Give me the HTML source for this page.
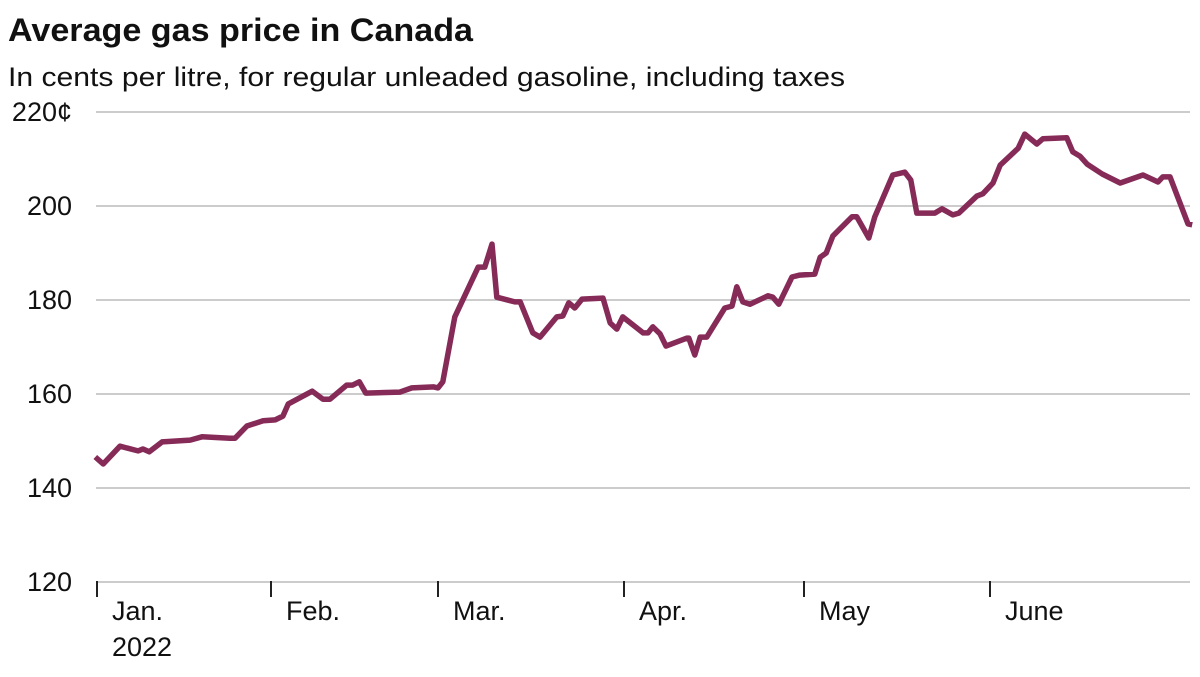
<!DOCTYPE html>
<html><head><meta charset="utf-8"><style>
html,body{margin:0;padding:0;background:#fff;}
body{width:1200px;height:672px;overflow:hidden;font-family:"Liberation Sans",sans-serif;color:#111;}
</style></head><body>
<svg id="chart" width="1200" height="672" xmlns="http://www.w3.org/2000/svg" font-family="Liberation Sans, sans-serif">
<text x="8" y="41" font-size="32" font-weight="bold" fill="#111" textLength="465" lengthAdjust="spacingAndGlyphs">Average gas price in Canada</text>
<text x="8" y="86" font-size="27" fill="#111" textLength="837" lengthAdjust="spacingAndGlyphs">In cents per litre, for regular unleaded gasoline, including taxes</text>
<g id="grid"></g>
<g id="xaxis"></g>
<g id="series"></g>
</svg>
<script>
const yTicks=[120,140,160,180,200,220];
const yTickLabels=["120","140","160","180","200","220¢"];
const monthDays=[0,31,59,90,120,151,181];
const monthLabels=["Jan.","Feb.","Mar.","Apr.","May","June"];
const days=[-0.3,1.1,4.1,7.3,8.2,9.3,11.6,16.6,18.7,23.7,24.6,26.7,29.6,31.7,33.0,33.9,37.9,39.7,40.9,43.7,44.7,45.8,46.9,52.6,54.6,58.3,59.0,59.8,61.8,65.7,66.8,68.0,68.8,71.8,72.7,74.8,76.0,78.8,79.8,80.8,81.8,83.0,86.5,87.7,88.8,89.8,93.2,94.0,94.8,96.0,97.0,100.5,100.8,101.8,102.7,103.8,106.8,108.0,108.8,109.8,111.0,114.0,114.8,115.8,118.0,119.3,121.8,122.7,123.7,124.8,128.0,128.8,130.8,131.8,134.8,136.8,137.8,138.8,141.8,143.0,144.8,145.8,148.8,149.8,151.5,152.7,155.7,156.8,158.8,159.8,163.8,164.8,166.0,167.2,169.7,172.7,176.5,179.0,179.8,181.0,184.0,184.7];
const prices=[146.6,145.1,148.9,147.9,148.3,147.7,149.8,150.2,150.9,150.6,150.6,153.2,154.3,154.5,155.3,157.9,160.6,158.9,158.9,161.9,161.9,162.6,160.2,160.4,161.3,161.5,161.3,162.6,176.4,187.0,187.0,191.9,180.6,179.6,179.6,173.0,172.1,176.4,176.6,179.4,178.3,180.2,180.4,175.1,173.8,176.4,173.0,173.0,174.3,172.8,170.2,171.9,171.9,168.3,172.1,172.1,178.3,178.7,182.8,179.6,179.1,180.9,180.6,179.1,184.9,185.3,185.5,189.1,190.0,193.6,197.7,197.7,193.2,197.7,206.6,207.2,205.5,198.5,198.5,199.4,198.1,198.5,202.1,202.6,204.9,208.7,212.3,215.3,213.2,214.3,214.5,211.5,210.6,208.9,206.8,204.9,206.6,205.1,206.2,206.2,196.2,196.0];
const NS="http://www.w3.org/2000/svg";
const tickPx=[97,271,438,624,804,990,1170];
function xs(d){
  for(let i=0;i<monthDays.length-1;i++){
    if(d<=monthDays[i+1]||i===monthDays.length-2){
      const t=(d-monthDays[i])/(monthDays[i+1]-monthDays[i]);
      return tickPx[i]+t*(tickPx[i+1]-tickPx[i]);
    }
  }
}
function ys(v){return 582-(v-120)*4.7;}
const grid=document.getElementById('grid');
yTicks.forEach((v,i)=>{
  const l=document.createElementNS(NS,'line');
  l.setAttribute('x1',96);l.setAttribute('x2',1190);
  l.setAttribute('y1',ys(v));l.setAttribute('y2',ys(v));
  l.setAttribute('stroke','#cccccc');l.setAttribute('stroke-width','2');
  
  
  grid.appendChild(l);
  const t=document.createElementNS(NS,'text');
  t.setAttribute('x',72);t.setAttribute('y',ys(v)+9);
  t.setAttribute('text-anchor','end');t.setAttribute('font-size','27');t.setAttribute('fill','#111');
  t.textContent=yTickLabels[i];
  
  
  grid.appendChild(t);
});
const xa=document.getElementById('xaxis');
monthLabels.forEach((m,i)=>{
  const x=xs(monthDays[i]);
  const l=document.createElementNS(NS,'line');
  l.setAttribute('x1',x);l.setAttribute('x2',x);l.setAttribute('y1',581);l.setAttribute('y2',597);
  l.setAttribute('stroke','#222');l.setAttribute('stroke-width','2');
  
  
  xa.appendChild(l);
  const t=document.createElementNS(NS,'text');
  t.setAttribute('x',x+15);t.setAttribute('y',620);t.setAttribute('font-size','27');t.setAttribute('fill','#111');
  t.textContent=m;
  
  
  xa.appendChild(t);
});
const yr=document.createElementNS(NS,'text');
yr.setAttribute('x',112);yr.setAttribute('y',656);yr.setAttribute('font-size','27');yr.setAttribute('fill','#111');
yr.textContent='2022';


xa.appendChild(yr);
const p=document.createElementNS(NS,'path');
p.setAttribute('d',days.map((d,i)=>(i?'L':'M')+xs(d).toFixed(1)+','+ys(prices[i]).toFixed(1)).join(''));
p.setAttribute('fill','none');p.setAttribute('stroke','#862a58');p.setAttribute('stroke-width','5.5');
p.setAttribute('stroke-linejoin','round');


document.getElementById('series').appendChild(p);
</script>
</body></html>
